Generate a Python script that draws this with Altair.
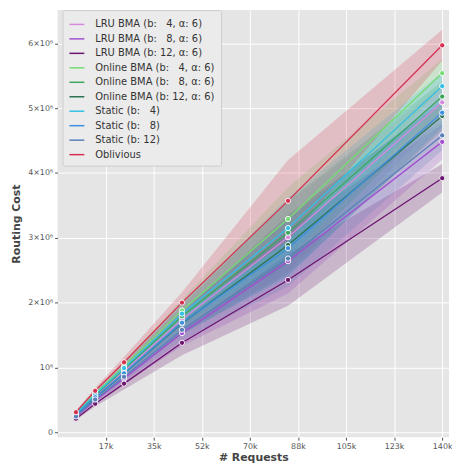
import altair as alt
import pandas as pd

x_requests = [6700, 13700, 24200, 45300, 83900, 140000]

series_names = [
    "LRU BMA (b:\u2007 4, α: 6)",
    "LRU BMA (b:\u2007 8, α: 6)",
    "LRU BMA (b: 12, α: 6)",
    "Online BMA (b:\u2007 4, α: 6)",
    "Online BMA (b:\u2007 8, α: 6)",
    "Online BMA (b: 12, α: 6)",
    "Static (b:\u2007 4)",
    "Static (b:\u2007 8)",
    "Static (b: 12)",
    "Oblivious",
]
series_colors = [
    "#d68ade", "#a24fd0", "#6b1470",
    "#74dc74", "#3ba65c", "#2b7452",
    "#33bfe6", "#3d8fe0", "#5a80b8",
    "#d63050",
]

# mean routing cost per series
lru4_mean = [270000, 555000, 940000, 1740000, 3010000, 5090000]
lru8_mean = [238000, 490000, 830000, 1530000, 2640000, 4480000]
lru12_mean = [210000, 440000, 750000, 1380000, 2350000, 3920000]
onl4_mean = [295000, 600000, 1020000, 1880000, 3290000, 5540000]
onl8_mean = [280000, 570000, 970000, 1790000, 3080000, 5180000]
onl12_mean = [260000, 535000, 905000, 1680000, 2890000, 4880000]
st4_mean = [285000, 585000, 990000, 1830000, 3150000, 5340000]
st8_mean = [262000, 540000, 910000, 1690000, 2840000, 4930000]
st12_mean = [245000, 505000, 855000, 1580000, 2680000, 4580000]
obl_mean = [310000, 640000, 1080000, 2000000, 3570000, 5970000]

# confidence band lower / upper
lru4_lo = [248000, 510000, 846000, 1530000, 2470000, 4840000]
lru4_hi = [292000, 600000, 1034000, 1950000, 3550000, 5340000]
lru8_lo = [217000, 446000, 739000, 1330000, 2140000, 4210000]
lru8_hi = [259000, 534000, 921000, 1730000, 3140000, 4750000]
lru12_lo = [191000, 396000, 660000, 1190000, 1950000, 3700000]
lru12_hi = [229000, 484000, 840000, 1570000, 2750000, 4140000]
onl4_lo = [274000, 558000, 938000, 1710000, 2800000, 5320000]
onl4_hi = [316000, 642000, 1100000, 2050000, 3780000, 5760000]
onl8_lo = [260000, 530000, 892000, 1610000, 2590000, 4950000]
onl8_hi = [300000, 610000, 1048000, 1970000, 3570000, 5410000]
onl12_lo = [242000, 498000, 833000, 1510000, 2430000, 4660000]
onl12_hi = [278000, 572000, 977000, 1850000, 3350000, 5100000]
st4_lo = [265000, 544000, 910000, 1665000, 2680000, 5130000]
st4_hi = [305000, 626000, 1070000, 1995000, 3620000, 5550000]
st8_lo = [244000, 502000, 837000, 1520000, 2390000, 4710000]
st8_hi = [280000, 578000, 983000, 1860000, 3290000, 5150000]
st12_lo = [228000, 470000, 787000, 1420000, 2250000, 4350000]
st12_hi = [262000, 540000, 923000, 1740000, 3110000, 4810000]
obl_lo = [285000, 595000, 995000, 1840000, 2950000, 5730000]
obl_hi = [335000, 685000, 1165000, 2160000, 4200000, 6210000]

x_tick_values = [17500, 35000, 52500, 70000, 87500, 105000, 122500, 140000]
x_tick_labels = ["17k", "35k", "52k", "70k", "88k", "105k", "123k", "140k"]
y_tick_values = [0, 1000000, 2000000, 3000000, 4000000, 5000000, 6000000]
y_tick_labels = ["0", "10⁶", "2×10⁶", "3×10⁶", "4×10⁶", "5×10⁶", "6×10⁶"]

means = [lru4_mean, lru8_mean, lru12_mean, onl4_mean, onl8_mean, onl12_mean,
         st4_mean, st8_mean, st12_mean, obl_mean]
lows = [lru4_lo, lru8_lo, lru12_lo, onl4_lo, onl8_lo, onl12_lo,
        st4_lo, st8_lo, st12_lo, obl_lo]
highs = [lru4_hi, lru8_hi, lru12_hi, onl4_hi, onl8_hi, onl12_hi,
         st4_hi, st8_hi, st12_hi, obl_hi]

rows = []
for i, name in enumerate(series_names):
    for j, xv in enumerate(x_requests):
        rows.append({"series": name, "order": i, "x": xv,
                     "y": means[i][j], "lo": lows[i][j], "hi": highs[i][j]})
df = pd.DataFrame(rows)

FONT = "DejaVu Sans"

x_expr = "[" + ",".join("'%s'" % s for s in x_tick_labels) + "][round(datum.value/17500)-1]"
y_expr = "[" + ",".join("'%s'" % s for s in y_tick_labels) + "][round(datum.value/1000000)]"

xscale = alt.Scale(domain=[0, 142500], nice=False, zero=False)
yscale = alt.Scale(domain=[-76000, 6514000], nice=False, zero=False)
cscale = alt.Scale(domain=series_names, range=series_colors)

legend = alt.Legend(
    title=None, orient="none", legendX=5, legendY=0,
    symbolType="stroke", symbolSize=225, symbolStrokeWidth=1.5,
    symbolOpacity=1,
    labelFont=FONT, labelFontSize=10, labelColor="#333333",
    labelOffset=10, rowPadding=0.6, padding=6,
    fillColor="#ebebeb", strokeColor="#cccccc", cornerRadius=2,
    labelLimit=200,
)

x_enc = alt.X("x:Q", scale=xscale, title="# Requests",
              axis=alt.Axis(values=x_tick_values, labelExpr=x_expr))
y_axis = alt.Axis(values=y_tick_values, labelExpr=y_expr)

base = alt.Chart(df)

lines = base.mark_line(strokeWidth=1.3).encode(
    x=x_enc,
    y=alt.Y("y:Q", scale=yscale, title="Routing Cost", axis=y_axis),
    color=alt.Color("series:N", scale=cscale, sort=series_names, legend=legend),
    detail="series:N",
)

bands = base.mark_area(opacity=0.22).encode(
    x=x_enc,
    y=alt.Y("lo:Q", scale=yscale, title="Routing Cost", axis=y_axis),
    y2="hi:Q",
    color=alt.Color("series:N", scale=cscale, sort=series_names, legend=legend),
    detail="series:N",
    order="order:Q",
)

points = base.mark_point(filled=True, size=28, stroke="white",
                         strokeWidth=0.9, opacity=1).encode(
    x=x_enc,
    y=alt.Y("y:Q", scale=yscale, title="Routing Cost", axis=y_axis),
    fill=alt.Fill("series:N", scale=cscale, legend=None),
)

chart = alt.layer(bands, lines, points).properties(
    width=395,
    height=431,
    padding={"left": 50, "top": 0, "right": 3, "bottom": 26},
    autosize=alt.AutoSizeParams(type="none"),
    background="white",
).configure_view(
    fill="#e5e5e5", stroke=None,
).configure_axis(
    grid=True, gridColor="white", gridWidth=1,
    domain=False,
    tickColor="#555555", tickSize=3, tickWidth=1,
    labelColor="#555555", labelFont=FONT, labelFontSize=8, labelPadding=2,
    titleFont=FONT, titleFontSize=11, titleFontWeight="bold", titleColor="#444444",
).configure_axisX(
    titlePadding=2,
).configure_axisY(
    titlePadding=6,
)

chart.save("out.html", embed_options={"renderer": "svg", "actions": False})
